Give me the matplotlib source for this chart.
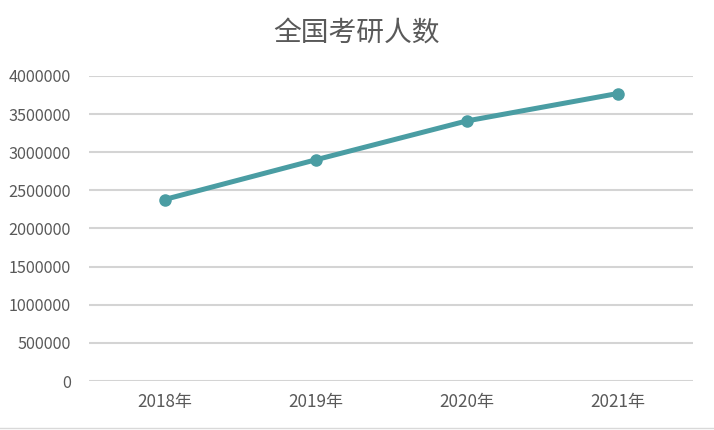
import matplotlib
matplotlib.use("Agg")
import matplotlib.pyplot as plt
from matplotlib.lines import Line2D

plt.rcParams['font.family'] = ['Noto Sans CJK SC', 'DejaVu Sans']

categories = ["2018年", "2019年", "2020年", "2021年"]
values = [2380000, 2900000, 3410000, 3770000]
yticks = [0, 500000, 1000000, 1500000, 2000000, 2500000, 3000000, 3500000, 4000000]
title = "全国考研人数"

fig = plt.figure(figsize=(7.14, 4.30), dpi=100)
ax = fig.add_axes([89/714, 1-381/430, (693-89)/714, (381-76)/430])

x = list(range(len(categories)))
ax.plot(x, values, color="#4A9DA3", linewidth=3.6, marker="o", markersize=8,
        solid_capstyle="round", zorder=3)

ax.set_xlim(-0.5, len(categories) - 0.5)
ax.set_ylim(0, 4000000)
ax.set_yticks(yticks)
ax.set_yticklabels([str(v) for v in yticks])
ax.set_xticks(x)
ax.set_xticklabels(categories)

ax.grid(axis="y", color="#D4D4D4", linewidth=1.5)
ax.set_axisbelow(True)
for s in ax.spines.values():
    s.set_visible(False)
ax.tick_params(axis="both", length=0, labelcolor="#595959")
ax.tick_params(axis="y", pad=13, labelsize=11.7)
ax.tick_params(axis="x", pad=9, labelsize=12.3)

fig.text(0.5, 1-33/430, title, ha="center", va="center", fontsize=20, color="#595959")

fig.add_artist(Line2D([0, 1], [1-428/430, 1-428/430], transform=fig.transFigure,
                      color="#D9D9D9", linewidth=1))

fig.savefig("out.png", dpi=100)
